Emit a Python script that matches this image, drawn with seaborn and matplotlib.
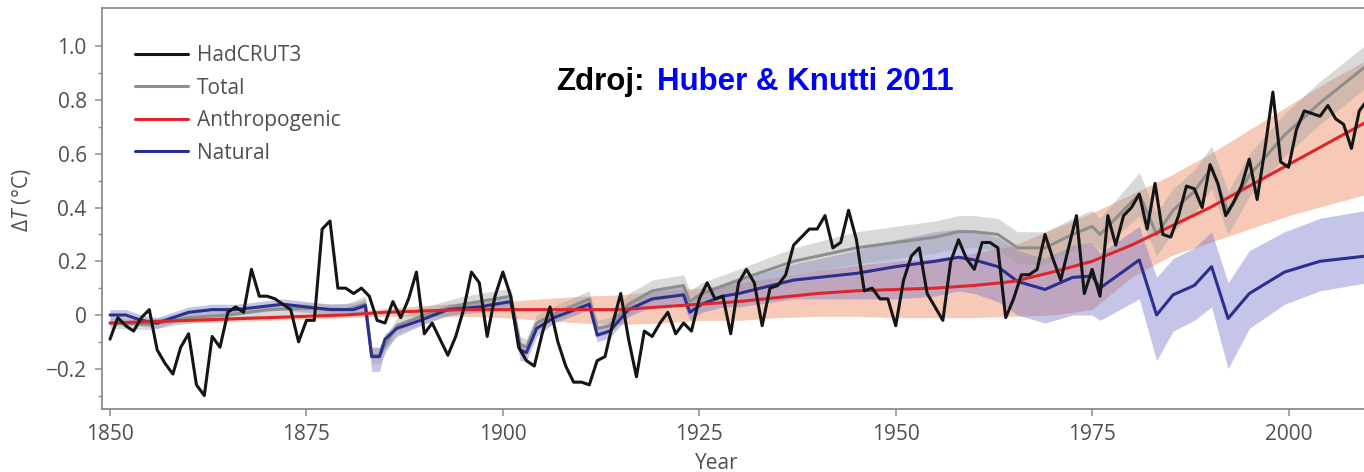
import matplotlib
matplotlib.use("Agg")
import matplotlib.pyplot as plt
import seaborn as sns

# HadCRUT3 annual values, 1850-2010
years = list(range(1850, 2011))
hadcrut3 = [
    -0.09, -0.01, -0.04, -0.06, -0.01, 0.02, -0.13, -0.18, -0.22, -0.12,
    -0.07, -0.26, -0.30, -0.08, -0.12, 0.01, 0.03, 0.01, 0.17, 0.07,
    0.07, 0.06, 0.04, 0.02, -0.10, -0.02, -0.02, 0.32, 0.35, 0.10,
    0.10, 0.08, 0.10, 0.07, -0.02, -0.03, 0.05, -0.01, 0.06, 0.16,
    -0.07, -0.03, -0.09, -0.15, -0.08, 0.02, 0.16, 0.12, -0.08, 0.07,
    0.16, 0.07, -0.12, -0.17, -0.19, -0.07, 0.03, -0.10, -0.19, -0.25,
    -0.25, -0.26, -0.17, -0.155, -0.03, 0.08, -0.09, -0.23, -0.06, -0.08,
    -0.03, 0.01, -0.07, -0.03, -0.06, 0.06, 0.12, 0.06, 0.07, -0.07,
    0.12, 0.17, 0.12, -0.04, 0.10, 0.11, 0.15, 0.26, 0.29, 0.32,
    0.32, 0.37, 0.25, 0.27, 0.39, 0.28, 0.09, 0.10, 0.06, 0.06,
    -0.04, 0.13, 0.22, 0.25, 0.08, 0.03, -0.02, 0.20, 0.28, 0.21,
    0.17, 0.27, 0.27, 0.25, -0.01, 0.06, 0.15, 0.15, 0.17, 0.30,
    0.21, 0.13, 0.25, 0.37, 0.08, 0.17, 0.07, 0.37, 0.26, 0.37,
    0.40, 0.45, 0.32, 0.49, 0.30, 0.29, 0.37, 0.48, 0.47, 0.40,
    0.56, 0.49, 0.37, 0.42, 0.48, 0.58, 0.43, 0.62, 0.83, 0.57,
    0.55, 0.69, 0.76, 0.75, 0.74, 0.78, 0.73, 0.71, 0.62, 0.76,
    0.80,
]

# anthropogenic forcing response + range
anthro_years = [1850, 1855, 1860, 1865, 1870, 1875, 1880, 1885, 1890, 1895, 1900,
                1905, 1910, 1915, 1920, 1925, 1930, 1935, 1940, 1945, 1950, 1955,
                1960, 1965, 1970, 1975, 1980, 1985, 1990, 1995, 2000, 2005, 2010]
anthro = [-0.03, -0.025, -0.02, -0.015, -0.01, -0.005, 0.0, 0.01, 0.015, 0.02, 0.02,
          0.02, 0.02, 0.02, 0.03, 0.04, 0.05, 0.065, 0.08, 0.09, 0.095, 0.10,
          0.11, 0.125, 0.16, 0.20, 0.26, 0.33, 0.40, 0.48, 0.56, 0.64, 0.72]
anthro_lo = [-0.04, -0.035, -0.03, -0.025, -0.02, -0.015, -0.01, -0.005, -0.005, -0.005, -0.01,
             -0.02, -0.03, -0.035, -0.03, -0.02, -0.02, -0.01, -0.005, -0.005, -0.01, -0.01,
             -0.01, -0.005, 0.0, 0.02, 0.14, 0.22, 0.27, 0.32, 0.37, 0.41, 0.45]
anthro_hi = [-0.02, -0.015, -0.01, -0.005, 0.0, 0.005, 0.01, 0.025, 0.035, 0.045, 0.05,
             0.06, 0.07, 0.075, 0.09, 0.10, 0.12, 0.14, 0.165, 0.185, 0.20, 0.21,
             0.23, 0.26, 0.32, 0.38, 0.45, 0.52, 0.60, 0.69, 0.78, 0.87, 0.95]

# natural forcing response + range
nat_years = [1850, 1852, 1854, 1856, 1858, 1860, 1863, 1866, 1869, 1872, 1875, 1878, 1881,
             1882.5, 1883.3, 1884.3, 1885, 1886.5, 1889.5, 1893, 1897,
             1901, 1902.2, 1903, 1904.3, 1906.5, 1911, 1912, 1913.6,
             1916, 1919, 1923, 1923.8, 1925.3, 1928, 1930,
             1937, 1945, 1950, 1955, 1958, 1960, 1963, 1965.5, 1969, 1972.5, 1975, 1976,
             1981, 1983.2, 1985.3, 1988, 1990.2, 1992.3, 1995, 1999.5, 2004, 2010]
natural = [0.0, 0.0, -0.02, -0.03, -0.01, 0.01, 0.02, 0.02, 0.03, 0.04, 0.03, 0.02, 0.02,
           0.035, -0.155, -0.155, -0.09, -0.05, -0.02, 0.02, 0.03,
           0.05, -0.13, -0.14, -0.05, -0.01, 0.04, -0.075, -0.06,
           0.02, 0.06, 0.075, 0.01, 0.04, 0.07, 0.08,
           0.13, 0.155, 0.18, 0.20, 0.215, 0.205, 0.18, 0.125, 0.095, 0.14, 0.145, 0.10,
           0.205, 0.0, 0.075, 0.11, 0.18, -0.013, 0.08, 0.16, 0.20, 0.22]
nat_lo = [-0.02, -0.02, -0.04, -0.05, -0.03, -0.01, 0.0, 0.0, 0.01, 0.02, 0.01, 0.0, 0.0,
          0.01, -0.21, -0.21, -0.13, -0.08, -0.04, 0.0, 0.01,
          0.03, -0.17, -0.17, -0.08, -0.03, 0.02, -0.10, -0.085,
          -0.005, 0.03, 0.04, -0.02, 0.01, 0.03, 0.03,
          0.06, 0.06, 0.06, 0.07, 0.09, 0.08, 0.05, 0.0, -0.03, 0.0, 0.0, -0.02,
          0.06, -0.17, -0.06, -0.02, 0.03, -0.20, -0.05, 0.04, 0.09, 0.12]
nat_hi = [0.02, 0.02, 0.0, -0.01, 0.01, 0.03, 0.04, 0.04, 0.05, 0.06, 0.05, 0.04, 0.045,
          0.06, -0.12, -0.12, -0.07, -0.03, 0.0, 0.04, 0.055,
          0.075, -0.10, -0.11, -0.03, 0.01, 0.065, -0.05, -0.035,
          0.045, 0.09, 0.11, 0.04, 0.08, 0.11, 0.13,
          0.19, 0.24, 0.28, 0.31, 0.32, 0.31, 0.29, 0.24, 0.21, 0.26, 0.27, 0.23,
          0.33, 0.14, 0.21, 0.25, 0.31, 0.12, 0.24, 0.31, 0.36, 0.39]

# total (natural + anthropogenic) response + range
total_years = [1850, 1855, 1860, 1865, 1870, 1875, 1880,
               1882.5, 1883.3, 1884.3, 1886.5, 1890, 1895,
               1901, 1902.2, 1903, 1904.3, 1907, 1911, 1912, 1913.6,
               1916, 1919, 1923, 1923.8, 1925.3, 1930,
               1937, 1945, 1950, 1955, 1958, 1960, 1963, 1965.5, 1969, 1972.5, 1975, 1976,
               1981, 1983.2, 1985.3, 1988, 1990.2, 1992.3, 1995, 1999.5, 2004, 2010]
total = [-0.03, -0.035, -0.01, 0.0, 0.02, 0.025, 0.02,
         0.04, -0.15, -0.15, -0.04, 0.0, 0.04,
         0.07, -0.11, -0.12, -0.03, 0.01, 0.06, -0.05, -0.04,
         0.04, 0.09, 0.11, 0.05, 0.08, 0.13,
         0.20, 0.25, 0.27, 0.29, 0.31, 0.31, 0.30, 0.25, 0.25, 0.30, 0.33, 0.30,
         0.45, 0.30, 0.39, 0.46, 0.55, 0.38, 0.52, 0.67, 0.79, 0.93]
total_lo = [-0.05, -0.055, -0.03, -0.02, 0.0, 0.005, 0.0,
            0.01, -0.18, -0.18, -0.07, -0.03, 0.01,
            0.04, -0.14, -0.15, -0.06, -0.02, 0.03, -0.08, -0.07,
            0.0, 0.05, 0.07, 0.01, 0.04, 0.09,
            0.15, 0.19, 0.21, 0.23, 0.25, 0.25, 0.24, 0.19, 0.19, 0.24, 0.27, 0.24,
            0.37, 0.22, 0.31, 0.38, 0.47, 0.30, 0.44, 0.59, 0.71, 0.85]
total_hi = [-0.01, -0.015, 0.01, 0.02, 0.04, 0.045, 0.04,
            0.07, -0.12, -0.12, -0.01, 0.03, 0.07,
            0.10, -0.08, -0.09, 0.0, 0.04, 0.09, -0.02, -0.01,
            0.08, 0.13, 0.15, 0.09, 0.12, 0.17,
            0.25, 0.31, 0.33, 0.35, 0.37, 0.37, 0.36, 0.31, 0.31, 0.36, 0.39, 0.36,
            0.53, 0.38, 0.47, 0.54, 0.63, 0.46, 0.60, 0.75, 0.87, 1.01]

yticks = [-0.2, 0, 0.2, 0.4, 0.6, 0.8, 1.0]
ytick_labels = ["\u22120.2", "0", "0.2", "0.4", "0.6", "0.8", "1.0"]
xticks = [1850, 1875, 1900, 1925, 1950, 1975, 2000]

sns.set_theme(style="ticks")
plt.rcParams["font.family"] = ["Open Sans", "DejaVu Sans"]
plt.rcParams["mathtext.fontset"] = "custom"
plt.rcParams["mathtext.rm"] = "Open Sans"
plt.rcParams["mathtext.it"] = "Open Sans:italic"

txt = "#505050"
fs = 15
fig = plt.figure(figsize=(13.64, 4.72), dpi=100)
ax = fig.add_axes([102 / 1364, 1 - 409 / 472, 1 - 102 / 1364, 401 / 472])

# uncertainty bands
ax.fill_between(anthro_years, anthro_lo, anthro_hi, color="#f0a07a", alpha=0.55, lw=0)
ax.fill_between(nat_years, nat_lo, nat_hi, color="#6e6ec8", alpha=0.4, lw=0)
ax.fill_between(total_years, total_lo, total_hi, color="#a0a0a0", alpha=0.4, lw=0)

sns.lineplot(x=total_years, y=total, ax=ax, color="#8e8e8e", linewidth=2.2)
l_tot = ax.lines[-1]
sns.lineplot(x=nat_years, y=natural, ax=ax, color="#2b2f8f", linewidth=2.2)
l_nat = ax.lines[-1]
sns.lineplot(x=anthro_years, y=anthro, ax=ax, color="#e0242b", linewidth=2.2)
l_ant = ax.lines[-1]
sns.lineplot(x=years, y=hadcrut3, ax=ax, color="#151515", linewidth=2.2)
l_had = ax.lines[-1]

ax.set_xlim(1848.98, 2009.6)
ax.set_ylim(-0.35, 1.143)
ax.set_xticks(xticks)
ax.set_xticklabels([str(x) for x in xticks])
ax.set_yticks(yticks)
ax.set_yticklabels(ytick_labels)
ax.set_yticks([-0.3, -0.1, 0.1, 0.3, 0.5, 0.7, 0.9], minor=True)

for s in ["left", "bottom", "top"]:
    ax.spines[s].set_color("#8c8c8c")
    ax.spines[s].set_linewidth(1.3)
ax.spines["right"].set_visible(False)
ax.tick_params(axis="both", which="major", length=5, width=1.1, color="#8c8c8c",
               labelcolor=txt, labelsize=fs)
ax.tick_params(axis="y", which="major", pad=6)
ax.tick_params(axis="x", which="major", pad=6)
ax.tick_params(axis="y", which="minor", length=3, width=1.0, color="#8c8c8c")

ax.set_xlabel("Year", fontsize=fs, color=txt)
ax.xaxis.set_label_coords((717 - 102) / 1262, -0.11)
ax.set_ylabel(r"$\Delta\mathit{T}$ (°C)", fontsize=fs, color=txt)
ax.yaxis.set_label_coords(-0.055, 0.52)

ax.legend([l_had, l_tot, l_ant, l_nat], ["HadCRUT3", "Total", "Anthropogenic", "Natural"],
          loc="upper left", bbox_to_anchor=(0.026, 0.907), frameon=False,
          handlelength=2.55, handletextpad=0.43, labelspacing=0.55,
          borderaxespad=0, borderpad=0, fontsize=fs, labelcolor=txt)

fig.text(556 / 1364, 1 - 90 / 472, "Zdroj:", fontsize=22.5, fontweight="bold",
         family="Liberation Sans", color="black", ha="left", va="baseline")
fig.text(657 / 1364, 1 - 90 / 472, "Huber & Knutti 2011", fontsize=22.5, fontweight="bold",
         family="Liberation Sans", color="#0000ff", ha="left", va="baseline")

fig.savefig("out.png", dpi=100)
